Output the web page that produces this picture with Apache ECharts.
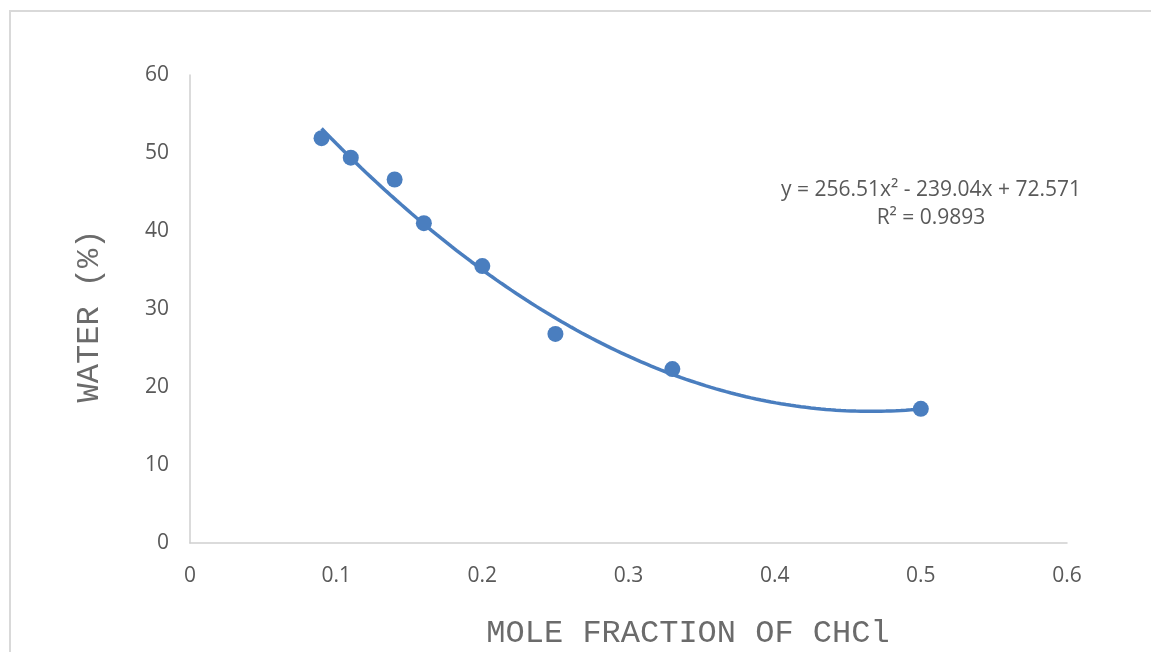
<!DOCTYPE html>
<html>
<head>
<meta charset="utf-8">
<script src="https://cdn.jsdelivr.net/npm/echarts@6/dist/echarts.min.js"></script>
<style>
  html, body { margin: 0; padding: 0; background: #fff; }
  #chart { width: 1151px; height: 652px; }
</style>
</head>
<body>
<div id="chart"></div>
<script>
// Measured samples: mole fraction of CHCl vs. water content (%)
const moleFraction = [0.09, 0.11, 0.14, 0.16, 0.20, 0.25, 0.33, 0.50];
const waterPercent = [51.9, 49.4, 46.6, 41.0, 35.5, 26.8, 22.3, 17.2];

// Second-order polynomial trendline: y = a*x^2 + b*x + c
const trendCoeffs = [256.51, -239.04, 72.571];
const trendRSquared = 0.9893;

const xTicks = [0, 0.1, 0.2, 0.3, 0.4, 0.5, 0.6];
const yTicks = [0, 10, 20, 30, 40, 50, 60];

const xTitle = 'MOLE FRACTION OF CHCl';
const yTitle = 'WATER (%)';

const BLUE = '#4a7ebf';
const TEXT = '#595959';
const TITLE = '#6b6b6b';

const points = moleFraction.map((x, i) => [x, waterPercent[i]]);

// Trendline sampled across the measured range from the stated coefficients
const xMin = Math.min(...moleFraction), xMax = Math.max(...moleFraction);
const trend = [];
const steps = 120;
for (let i = 0; i <= steps; i++) {
  const x = xMin + (xMax - xMin) * i / steps;
  trend.push([x, trendCoeffs[0] * x * x + trendCoeffs[1] * x + trendCoeffs[2]]);
}

const fmt = v => (v < 0 ? ' - ' : ' + ') + Math.abs(v);
const eqLine1 = 'y = ' + trendCoeffs[0] + 'x²' + fmt(trendCoeffs[1]) + 'x' + fmt(trendCoeffs[2]);
const eqLine2 = 'R² = ' + trendRSquared;

const chart = echarts.init(document.getElementById('chart'), null, { renderer: 'canvas' });

const tickFont = { color: TEXT, fontFamily: 'Open Sans', fontSize: 21 };

chart.setOption({
  backgroundColor: '#fff',
  animation: false,
  grid: { left: 190, right: 84, top: 75, bottom: 109 },
  xAxis: {
    type: 'value',
    min: xTicks[0], max: xTicks[xTicks.length - 1], interval: 0.1,
    axisLine: { show: true, onZero: false, lineStyle: { color: '#cfcfcf', width: 1.5 } },
    axisTick: { show: false },
    splitLine: { show: false },
    axisLabel: Object.assign({ margin: 23, formatter: v => String(+v.toFixed(1)) }, tickFont)
  },
  yAxis: {
    type: 'value',
    min: yTicks[0], max: yTicks[yTicks.length - 1], interval: 10,
    axisLine: { show: true, lineStyle: { color: '#cfcfcf', width: 1.5 } },
    axisTick: { show: false },
    splitLine: { show: false },
    axisLabel: Object.assign({ margin: 21 }, tickFont)
  },
  series: [
    {
      type: 'line',
      data: trend,
      showSymbol: false,
      smooth: false,
      lineStyle: { color: BLUE, width: 3.5 },
      z: 2
    },
    {
      type: 'scatter',
      data: points,
      symbol: 'circle',
      symbolSize: 16,
      itemStyle: { color: BLUE, opacity: 1 },
      z: 3
    }
  ],
  graphic: [
    {
      type: 'rect',
      shape: { x: 10, y: 11, width: 1160, height: 700 },
      style: { fill: 'none', stroke: '#d9d9d9', lineWidth: 2 },
      silent: true
    },
    {
      type: 'text',
      x: 931, y: 190,
      style: { text: eqLine1, fill: TEXT, font: '21px "Open Sans"', textAlign: 'center', textVerticalAlign: 'middle' }
    },
    {
      type: 'text',
      x: 931, y: 218,
      style: { text: eqLine2, fill: TEXT, font: '21px "Open Sans"', textAlign: 'center', textVerticalAlign: 'middle' }
    },
    {
      type: 'text',
      x: 688, y: 634,
      style: { text: xTitle, fill: TITLE, font: '32px "Liberation Mono"', textAlign: 'center', textVerticalAlign: 'middle' }
    },
    {
      type: 'text',
      x: 90, y: 316,
      rotation: Math.PI / 2,
      style: { text: yTitle, fill: TITLE, font: '32px "Liberation Mono"', textAlign: 'center', textVerticalAlign: 'middle' }
    }
  ]
});
</script>
</body>
</html>
